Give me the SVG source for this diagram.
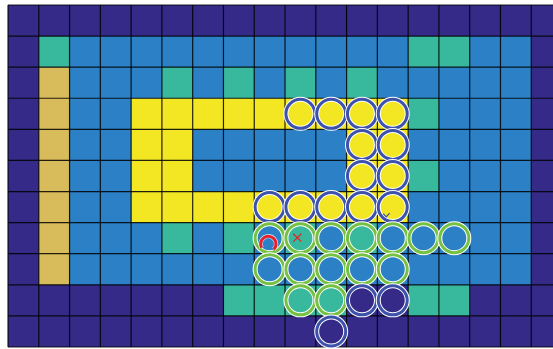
<svg xmlns="http://www.w3.org/2000/svg" width="553" height="349" viewBox="0 0 553 349">
<style>
.dk{fill:#352a87}.bl{fill:#2b80c6}.tl{fill:#38b89c}.gd{fill:#d8bb5a}.yl{fill:#f3e724}
.grid{stroke:#000;stroke-width:1.2;fill:none;stroke-opacity:0.85}
.halo{fill:none;stroke:#fff;stroke-width:5}
.rb{fill:none;stroke:#3d52aa;stroke-width:3}
.rg{fill:none;stroke:#76c143;stroke-width:3}
</style>
<defs>
<g id="ringB"><circle r="14.5" class="halo"/><circle r="14.5" class="rb"/></g>
<g id="ringG"><circle r="14.5" class="halo"/><circle r="14.5" class="rg"/></g>
</defs>
<rect width="553" height="349" fill="#fff"/>
<g id="cells">
<rect class="dk" x="8" y="5" width="545" height="342"/>
<rect class="bl" x="69.56" y="36.09" width="461.7" height="248.72"/>
<rect class="tl" x="38.78" y="36.09" width="30.78" height="31.09"/>
<rect class="tl" x="408.14" y="36.09" width="61.56" height="31.09"/>
<rect class="tl" x="161.9" y="67.18" width="30.78" height="31.09"/>
<rect class="tl" x="223.46" y="67.18" width="30.78" height="31.09"/>
<rect class="tl" x="285.02" y="67.18" width="30.78" height="31.09"/>
<rect class="tl" x="346.58" y="67.18" width="30.78" height="31.09"/>
<rect class="tl" x="408.14" y="98.27" width="30.78" height="31.09"/>
<rect class="tl" x="408.14" y="160.45" width="30.78" height="31.09"/>
<rect class="tl" x="161.9" y="222.63" width="30.78" height="31.09"/>
<rect class="tl" x="223.46" y="222.63" width="30.78" height="31.09"/>
<rect class="tl" x="285.02" y="222.63" width="30.78" height="31.09"/>
<rect class="tl" x="346.58" y="222.63" width="30.78" height="31.09"/>
<rect class="tl" x="223.46" y="284.81" width="123.12" height="31.09"/>
<rect class="tl" x="408.14" y="284.81" width="61.56" height="31.09"/>
<rect class="gd" x="38.78" y="67.18" width="30.78" height="217.63"/>
<rect class="yl" x="131.12" y="98.27" width="277.02" height="31.09"/>
<rect class="yl" x="131.12" y="129.36" width="61.56" height="62.18"/>
<rect class="yl" x="346.58" y="129.36" width="61.56" height="62.18"/>
<rect class="yl" x="131.12" y="191.54" width="277.02" height="31.09"/>
</g>
<g id="gridlines">
<path class="grid" d="M8 5V347M38.78 5V347M69.56 5V347M100.34 5V347M131.12 5V347M161.9 5V347M192.68 5V347M223.46 5V347M254.24 5V347M285.02 5V347M315.8 5V347M346.58 5V347M377.36 5V347M408.14 5V347M438.92 5V347M469.7 5V347M500.48 5V347M531.26 5V347"/>
<path class="grid" d="M8 5H553M8 36.09H553M8 67.18H553M8 98.27H553M8 129.36H553M8 160.45H553M8 191.54H553M8 222.63H553M8 253.72H553M8 284.81H553M8 315.9H553M8 346.99H553"/>
</g>
<g id="yellow-rings">
<use href="#ringB" x="300.41" y="113.82"/><use href="#ringB" x="331.19" y="113.82"/><use href="#ringB" x="361.97" y="113.82"/><use href="#ringB" x="392.75" y="113.82"/>
<use href="#ringB" x="361.97" y="144.91"/><use href="#ringB" x="392.75" y="144.91"/>
<use href="#ringB" x="361.97" y="176"/><use href="#ringB" x="392.75" y="176"/>
<use href="#ringB" x="269.63" y="207.09"/><use href="#ringB" x="300.41" y="207.09"/><use href="#ringB" x="331.19" y="207.09"/><use href="#ringB" x="361.97" y="207.09"/><use href="#ringB" x="392.75" y="207.09"/>
</g>
<g id="green-rings">
<use href="#ringG" x="269.63" y="238.18"/><use href="#ringG" x="300.41" y="238.18"/><use href="#ringG" x="331.19" y="238.18"/><use href="#ringG" x="361.97" y="238.18"/><use href="#ringG" x="392.75" y="238.18"/><use href="#ringG" x="423.53" y="238.18"/><use href="#ringG" x="454.31" y="238.18"/>
<use href="#ringG" x="269.63" y="269.27"/><use href="#ringG" x="300.41" y="269.27"/><use href="#ringG" x="331.19" y="269.27"/><use href="#ringG" x="361.97" y="269.27"/><use href="#ringG" x="392.75" y="269.27"/>
<use href="#ringG" x="300.41" y="300.36"/><use href="#ringG" x="331.19" y="300.36"/>
</g>
<g id="dark-rings">
<use href="#ringB" x="361.97" y="300.36"/><use href="#ringB" x="392.75" y="300.36"/>
<use href="#ringB" x="331.19" y="331.45"/>
</g>
<g id="markers">
<path d="M261.6 247.8A7.7 7.7 0 1 1 273.8 249.4" fill="none" stroke="#fff" stroke-width="4.6" stroke-opacity="0.7"/>
<path id="red-arc" d="M261.6 247.8A7.7 7.7 0 1 1 273.8 249.4" fill="none" stroke="#e8202a" stroke-width="3"/>
<path id="red-x" d="M293.3 233.8L301.3 241.6M301.3 233.8L293.3 241.6" stroke="#e8202a" stroke-width="1.2" fill="none"/>
<path id="check" d="M383.2 213.6L386.2 216.8L389.6 213.2" stroke="#3d52aa" stroke-width="1.2" fill="none"/>
</g>
</svg>
